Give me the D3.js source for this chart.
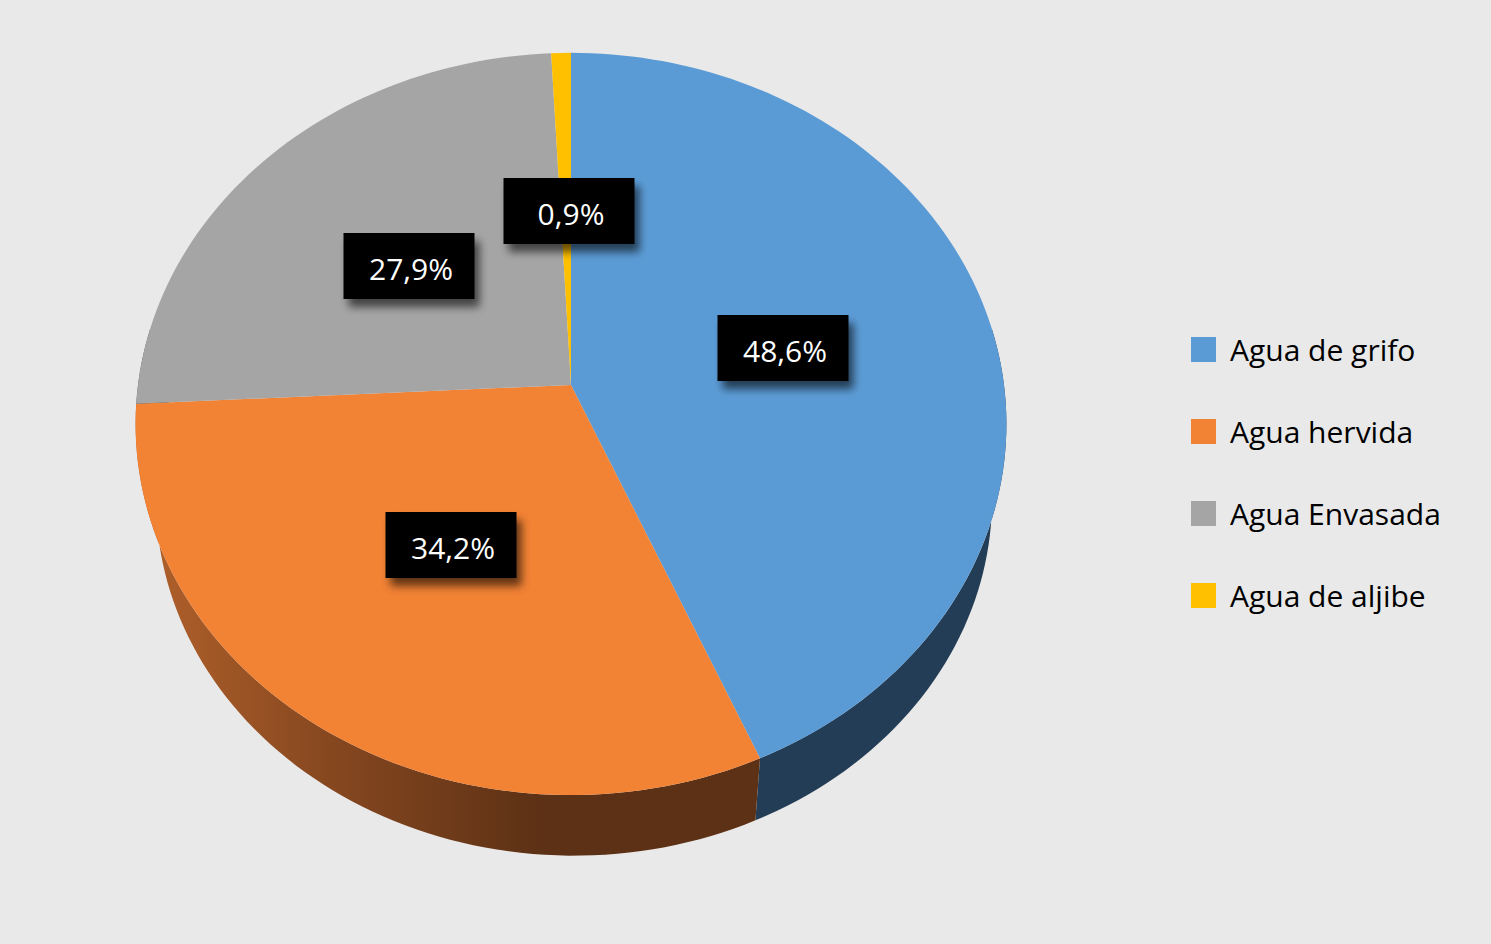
<!DOCTYPE html>
<html>
<head>
<meta charset="utf-8">
<script src="https://cdn.jsdelivr.net/npm/d3@7"></script>
<style>
  body { margin: 0; background: #e9e9e9; }
  svg { display: block; }
</style>
</head>
<body>
<div class="chart"></div>
<script>
var width = 1491,
    height = 944;

// data (the labels do not sum to 100)
var categories = ["Agua de grifo", "Agua hervida", "Agua Envasada", "Agua de aljibe"];
var values = [48.6, 34.2, 27.9, 0.9];
var labels = ["48,6%", "34,2%", "27,9%", "0,9%"];
var topColors = ["#5b9bd5", "#f28234", "#a5a5a5", "#ffc000"];
var sideColors = ["#243d56", "#8a4a1e", "#555555", "#7a5c00"];

// pie geometry: tilted disc with a bit of perspective
var cx = 571, cy = 385,
    rx = 433, ry = 367,
    k = 0.105;

// bottom disc sits lower, a little smaller and nudged right (perspective)
var bottom = {dx: 3, dy: 77, s: 0.96};

var project = function(theta, b){
  var u = Math.sin(theta), v = Math.cos(theta);
  var s = 1 + k * v;
  if (!b) return [cx + rx * u / s, cy - ry * v / s];
  return [cx + b.dx + b.s * rx * u / s, cy + b.dy - b.s * ry * v / s];
}

var svg = d3.select(".chart").append("svg")
    .attr("width", width)
    .attr("height", height)

svg.append("rect")
    .attr("width", width)
    .attr("height", height)
    .attr("fill", "#e9e9e9")

var defs = svg.append("defs")

var og = defs.append("linearGradient")
    .attr("id", "orangeSide")
    .attr("gradientUnits", "userSpaceOnUse")
    .attr("x1", 150).attr("y1", 0).attr("x2", 540).attr("y2", 0)
og.append("stop").attr("offset", "0").attr("stop-color", "#b0602a")
og.append("stop").attr("offset", "0.45").attr("stop-color", "#874820")
og.append("stop").attr("offset", "1").attr("stop-color", "#5d3115")

var shadow = defs.append("filter")
    .attr("id", "shadow")
    .attr("x", "-20%").attr("y", "-20%")
    .attr("width", "150%").attr("height", "160%")
shadow.append("feGaussianBlur").attr("in", "SourceAlpha").attr("stdDeviation", 4).attr("result", "b")
shadow.append("feOffset").attr("in", "b").attr("dx", 5).attr("dy", 8).attr("result", "o")
shadow.append("feComponentTransfer").attr("in", "o").attr("result", "t")
  .append("feFuncA").attr("type", "linear").attr("slope", 0.6)
var merge = shadow.append("feMerge")
merge.append("feMergeNode").attr("in", "t")
merge.append("feMergeNode").attr("in", "SourceGraphic")

var pie = d3.pie().sort(null).value(function(d){ return d; });
var arcs = pie(values);

// side walls only matter on the front half
var frontStart = Math.PI * 0.45,
    frontEnd = Math.PI * 1.55;

var line = d3.line();
var steps = 120;

var arcPoints = function(a0, a1, b){
  var pts = [];
  var n = Math.max(2, Math.ceil(steps * (a1 - a0) / Math.PI));
  for (var i = 0; i <= n; i++){
    pts.push(project(a0 + (a1 - a0) * i / n, b));
  }
  return pts;
}

// side walls
svg.selectAll(".side")
    .data(arcs)
  .enter().append("path")
    .attr("class", "side")
    .attr("fill", function(d, i){ return i == 1 ? "url(#orangeSide)" : sideColors[i]; })
    .attr("d", function(d){
      var a0 = Math.max(d.startAngle, frontStart),
          a1 = Math.min(d.endAngle, frontEnd);
      if (a1 <= a0) return null;
      var topPts = arcPoints(a0, a1, null);
      var botPts = arcPoints(a0, a1, bottom).reverse();
      return line(topPts.concat(botPts)) + "Z";
    })

// top faces
svg.selectAll(".slice")
    .data(arcs)
  .enter().append("path")
    .attr("class", "slice")
    .attr("fill", function(d, i){ return topColors[i]; })
    .attr("d", function(d){
      var pts = [[cx, cy]].concat(arcPoints(d.startAngle, d.endAngle, null));
      return line(pts) + "Z";
    })

// data labels
var labelPos = [[783, 348], [451, 545], [409, 266], [569, 211]];
var boxW = 131, boxH = 66;

var lab = svg.selectAll(".label")
    .data(arcs)
  .enter().append("g")
    .attr("class", "label")
    .attr("transform", function(d, i){ return "translate(" + labelPos[i][0] + "," + labelPos[i][1] + ")"; })

lab.append("rect")
    .attr("x", -boxW / 2)
    .attr("y", -boxH / 2)
    .attr("width", boxW)
    .attr("height", boxH)
    .attr("fill", "#000")
    .attr("filter", "url(#shadow)")

lab.append("text")
    .attr("x", 2)
    .attr("text-anchor", "middle")
    .attr("dy", "0.47em")
    .attr("fill", "#fff")
    .style("font-family", "'Open Sans', 'Noto Sans', sans-serif")
    .style("font-size", "30px")
    .text(function(d, i){ return labels[i]; })

// legend
var legend = svg.selectAll(".legend")
    .data(categories)
  .enter().append("g")
    .attr("class", "legend")
    .attr("transform", function(d, i){ return "translate(1191," + (337 + i * 82) + ")"; })

legend.append("rect")
    .attr("width", 25)
    .attr("height", 25)
    .attr("fill", function(d, i){ return topColors[i]; })

legend.append("text")
    .attr("x", 39)
    .attr("y", 24)
    .attr("fill", "#000")
    .style("font-family", "'Open Sans', 'Noto Sans', sans-serif")
    .style("font-size", "30px")
    .text(function(d){ return d; })
</script>
</body>
</html>
